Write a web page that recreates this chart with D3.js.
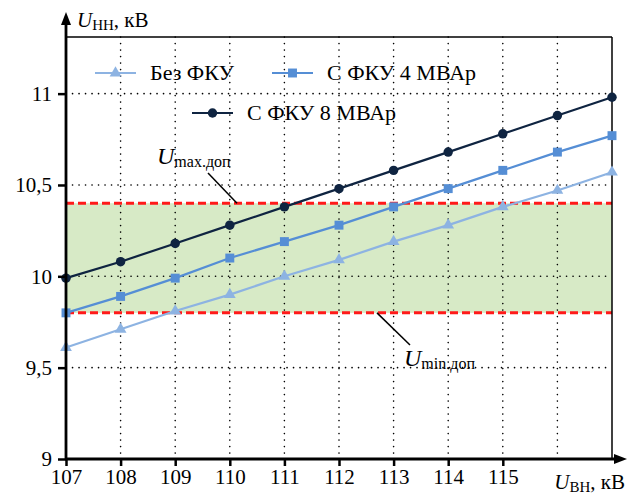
<!DOCTYPE html>
<html>
<head>
<meta charset="utf-8">
<script src="https://cdnjs.cloudflare.com/ajax/libs/d3/7.8.4/d3.min.js"></script>
<style>
  body { margin: 0; background: #fff; }
</style>
</head>
<body>
<div id="chart"></div>
<script>
// Данные
const uVN = [107, 108, 109, 110, 111, 112, 113, 114, 115, 116, 117];
const bezFKU = [9.61, 9.71, 9.81, 9.90, 10.00, 10.09, 10.19, 10.28, 10.38, 10.47, 10.57];
const fku4 = [9.80, 9.89, 9.99, 10.10, 10.19, 10.28, 10.38, 10.48, 10.58, 10.68, 10.77];
const fku8 = [9.99, 10.08, 10.18, 10.28, 10.38, 10.48, 10.58, 10.68, 10.78, 10.88, 10.98];
const xTicks = [107, 108, 109, 110, 111, 112, 113, 114, 115];
const xTickLabels = ["107", "108", "109", "110", "111", "112", "113", "114", "115"];
const yTicks = [9, 9.5, 10, 10.5, 11];
const yTickLabels = ["9", "9,5", "10", "10,5", "11"];
const uMinDop = 9.8;
const uMaxDop = 10.4;

const FONT = "'Liberation Serif', 'Times New Roman', serif";
const W = 629, H = 494;
const margin = { top: 37, right: 17, bottom: 35, left: 66 };
const width = W - margin.left - margin.right;
const height = H - margin.top - margin.bottom;

const svg = d3.select("#chart").append("svg")
  .attr("width", W).attr("height", H)
  .style("font-family", FONT);
const g = svg.append("g")
  .attr("transform", `translate(${margin.left},${margin.top})`);

const x = d3.scaleLinear().domain([107, 117]).range([0, width]);
const y = d3.scaleLinear().domain([9, 11.31]).range([height, 0]);

// допустимая зона
g.append("rect")
  .attr("x", 0).attr("width", width)
  .attr("y", y(uMaxDop)).attr("height", y(uMinDop) - y(uMaxDop))
  .attr("fill", "#d7eac6");

// сетка
g.selectAll(".vgrid").data(uVN.slice(1, -1)).join("line")
  .attr("x1", d => x(d)).attr("x2", d => x(d))
  .attr("y1", 0).attr("y2", height)
  .attr("stroke", "#000").attr("stroke-width", 1.6)
  .attr("stroke-linecap", "round")
  .attr("stroke-dasharray", "0.1 6.4");
g.selectAll(".hgrid").data(yTicks.slice(1)).join("line")
  .attr("x1", 0).attr("x2", width)
  .attr("y1", d => y(d)).attr("y2", d => y(d))
  .attr("stroke", "#000").attr("stroke-width", 1.6)
  .attr("stroke-linecap", "round")
  .attr("stroke-dasharray", "0.1 6.4");

// границы допустимой зоны
[uMaxDop, uMinDop].forEach(v => {
  g.append("line")
    .attr("x1", 0).attr("x2", width)
    .attr("y1", y(v)).attr("y2", y(v))
    .attr("stroke", "#ff1a1a").attr("stroke-width", 3)
    .attr("stroke-dasharray", "8 4");
});

// рамка
g.append("line").attr("x1", 0).attr("x2", width).attr("y1", 0).attr("y2", 0)
  .attr("stroke", "#000").attr("stroke-width", 1.5);
g.append("line").attr("x1", width).attr("x2", width).attr("y1", 0).attr("y2", height)
  .attr("stroke", "#000").attr("stroke-width", 1.5);

// кривые
const series = [
  { name: "Без ФКУ", values: bezFKU, color: "#8db3e2", sym: d3.symbolTriangle, size: 60 },
  { name: "С ФКУ 4 МВАр", values: fku4, color: "#558ed5", sym: d3.symbolSquare, size: 80 },
  { name: "С ФКУ 8 МВАр", values: fku8, color: "#0f2441", sym: d3.symbolCircle, size: 70 }
];

const line = d3.line().x(d => x(d[0])).y(d => y(d[1]));

series.forEach(s => {
  const pts = uVN.map((u, i) => [u, s.values[i]]);
  g.append("path").datum(pts)
    .attr("fill", "none").attr("stroke", s.color).attr("stroke-width", 2.2)
    .attr("d", line);
  g.selectAll(null).data(pts).join("path")
    .attr("transform", d => `translate(${x(d[0])},${y(d[1])})`)
    .attr("d", d3.symbol().type(s.sym).size(s.size))
    .attr("fill", s.color);
});

// оси
const xAxis = d3.axisBottom(x).tickValues(xTicks).tickSize(7)
  .tickFormat((d, i) => xTickLabels[i]);
const gx = g.append("g").attr("transform", `translate(0,${height})`).call(xAxis)
  .attr("font-family", null).attr("font-size", 21);
gx.select(".domain").remove();
gx.selectAll(".tick line").attr("stroke-width", 2.5);
gx.selectAll(".tick text").attr("dy", "0.8em").attr("y", 8)
  .style("font-family", FONT);

const yAxis = d3.axisLeft(y).tickValues(yTicks).tickSize(8)
  .tickFormat((d, i) => yTickLabels[i]);
const gy = g.append("g").call(yAxis)
  .attr("font-family", null).attr("font-size", 21);
gy.select(".domain").remove();
gy.selectAll(".tick line").attr("stroke-width", 2.5);
gy.selectAll(".tick text").attr("x", -14)
  .style("font-family", FONT);

// линии осей со стрелками
g.append("line").attr("x1", 0).attr("x2", 0).attr("y1", height + 1).attr("y2", -14)
  .attr("stroke", "#000").attr("stroke-width", 2.8);
g.append("path").attr("d", `M-5,-12 L0,-25 L5,-12 Z`).attr("fill", "#000");
g.append("line").attr("x1", -1).attr("x2", width + 4).attr("y1", height).attr("y2", height)
  .attr("stroke", "#000").attr("stroke-width", 2.8);
g.append("path").attr("d", `M${width + 2},${height - 5} L${width + 15},${height} L${width + 2},${height + 5} Z`)
  .attr("fill", "#000");

// подписи осей
const yTitle = svg.append("text").attr("x", 77).attr("y", 27).attr("font-size", 21)
  .style("font-family", FONT);
yTitle.append("tspan").attr("font-style", "italic").text("U");
yTitle.append("tspan").attr("font-size", 15).attr("dy", 3).text("НН");
yTitle.append("tspan").attr("dy", -3).text(", кВ");

const xTitle = svg.append("text").attr("x", 625).attr("y", 489)
  .attr("font-size", 21).attr("text-anchor", "end")
  .style("font-family", FONT);
xTitle.append("tspan").attr("font-style", "italic").text("U");
xTitle.append("tspan").attr("font-size", 15).attr("dy", 3).text("ВН");
xTitle.append("tspan").attr("dy", -3).text(", кВ");

// выноски
function callout(tx, ty, sub, x1, y1, x2, y2) {
  svg.append("line").attr("x1", x1).attr("y1", y1).attr("x2", x2).attr("y2", y2)
    .attr("stroke", "#000").attr("stroke-width", 1.5);
  const t = svg.append("text").attr("x", tx).attr("y", ty).attr("font-size", 24)
    .style("font-family", FONT);
  t.append("tspan").attr("font-style", "italic").text("U");
  t.append("tspan").attr("font-size", 16).attr("dy", 3).text(sub);
}
callout(157, 164, "max.доп", 208, 173, 237, y(uMaxDop) + margin.top);
callout(404, 366, "min.доп", 377, y(uMinDop) + margin.top, 410, 345);

// легенда
const legendItems = [
  { s: series[0], lx: 95, ly: 73 },
  { s: series[1], lx: 272, ly: 73 },
  { s: series[2], lx: 192, ly: 113 }
];
legendItems.forEach(({ s, lx, ly }) => {
  svg.append("line").attr("x1", lx).attr("x2", lx + 41).attr("y1", ly).attr("y2", ly)
    .attr("stroke", s.color).attr("stroke-width", 2.2);
  svg.append("path").attr("transform", `translate(${lx + 20.5},${ly})`)
    .attr("d", d3.symbol().type(s.sym).size(s.size)).attr("fill", s.color);
  svg.append("text").attr("x", lx + 55).attr("y", ly + 7).attr("font-size", 22)
    .style("font-family", FONT)
    .text(s.name);
});
</script>
</body>
</html>
